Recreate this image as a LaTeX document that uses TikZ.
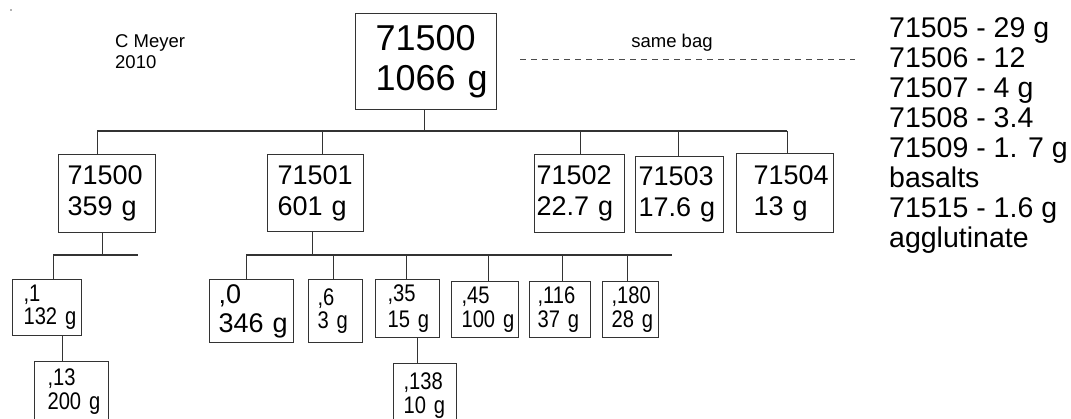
\documentclass[tikz,border=0pt]{standalone}
\usepackage{fontspec}
\setmainfont{Liberation Sans}
\newfontfamily\narrowsans{Liberation Sans}[FakeStretch=0.84]
\usetikzlibrary{positioning, calc}
\newcommand\fBig{\fontsize{36}{40}\selectfont}
\newcommand\fMid{\fontsize{27}{31}\selectfont}
\newcommand\fList{\fontsize{28.5}{30}\selectfont}
\newcommand\fNote{\fontsize{18.5}{21}\selectfont}
\tikzset{
    sample/.style={draw=black!80, line width=1.1pt, anchor=north west, align=left, inner ysep=0pt},
    small/.style={font=\narrowsans\fontsize{24}{#1}\selectfont},
    link/.style={black!80, line width=1.1pt},
    bagline/.style={black!70, line width=1pt, dash pattern=on 6pt off 5pt},
    note/.style={inner sep=0pt, align=left},
}
\begin{document}
\begin{tikzpicture}[x=1pt, y=-1pt]
    \useasboundingbox (0,0) rectangle (1071,418);
    \clip (0,0) rectangle (1071,418);
    \fill[gray!60] (10.3,9.3) rectangle (11.7,10.7);

    % Notes
    \node[note, font=\fNote, anchor=north west] (author) at (115,34) {C Meyer\\2010};
    \node[note, font=\fNote, anchor=base] (samebag) at (672,47) {same bag};
    \coordinate (bagL) at (520,59);
    \coordinate (bagR) at (855,59);
    \draw[bagline] (bagL) -- (bagR);
    \node[note, font=\fList, anchor=north west] (others) at (889,17)
        {71505 - 29 g\\71506 - 12\\71507 - 4 g\\71508 - 3.4\\71509 - 1. 7 g\\basalts\\71515 - 1.6 g\\agglutinate};

    % 1. Whole sample
    \node[sample, font=\fBig, minimum width=141pt, minimum height=96pt, inner xsep=20pt, text width=101pt] (bag) at (355,13) {71500\\1066~g};

    % 2. First split
    \node[sample, font=\fMid, minimum width=97pt, minimum height=78pt, inner xsep=9pt, text width=79pt] (n71500) at (58,154) {71500\\359~g};
    \node[sample, font=\fMid, minimum width=96pt, minimum height=77pt, inner xsep=10pt, text width=76pt] (n71501) at (267,154) {71501\\601~g};
    \node[sample, font=\fMid, minimum width=90pt, minimum height=78pt, inner xsep=2pt, text width=86pt] (n71502) at (534,154) {71502\\22.7~g};
    \node[sample, font=\fMid, minimum width=88pt, minimum height=76pt, inner xsep=3pt, text width=82pt] (n71503) at (635,156) {71503\\17.6~g};
    \node[sample, font=\fMid, minimum width=97pt, minimum height=79pt, inner xsep=17pt, text width=63pt] (n71504) at (736,153) {71504\\13~g};

    \coordinate (bus) at (97,131);
    \coordinate (busEnd) at (787,131);
    \draw[link] (bus) -- (busEnd);
    \draw[link] (bag.south) ++(-1.5,0) coordinate (d) -- (d |- bus);
    \foreach \n/\dx in {n71500/-9.5, n71501/7, n71502/1, n71503/-1, n71504/2.5}
        \draw[link] (\n.north) ++(\dx,0) coordinate (d) -- (d |- bus);

    % 3. Splits of 71500
    \node[sample, small=23, minimum width=69pt, minimum height=56pt, inner xsep=11pt, text width=47pt] (p1) at (12,279) {,1\\132~g};
    \node[sample, small=24, minimum width=74pt, minimum height=60pt, inner xsep=13pt, text width=48pt] (p13) at (34,361) {,13\\200~g};

    \coordinate (busA) at (53,255);
    \coordinate (busAEnd) at (138,255);
    \draw[link] (busA) -- (busAEnd);
    \draw[link] (n71500.south) ++(-4.5,0) coordinate (d) -- (d |- busA);
    \draw[link] (p1.north) ++(6.5,0) coordinate (d) -- (d |- busA);
    \draw[link] (p1.south) ++(15.5,0) coordinate (d) -- (d |- p13.north);

    % 4. Splits of 71501
    \node[sample, font=\fontsize{27}{29}\selectfont, minimum width=84pt, minimum height=63pt, inner xsep=9pt, text width=66pt] (p0) at (209,279) {,0\\346~g};
    \node[sample, small=23, minimum width=54pt, minimum height=63pt, inner xsep=9pt, text width=36pt] (p6) at (308,279) {,6\\3~g};
    \node[sample, small=26, minimum width=64pt, minimum height=58pt, inner xsep=12pt, text width=40pt] (p35) at (375,279) {,35\\15~g};
    \node[sample, small=24, minimum width=63pt, minimum height=64pt, inner xsep=10pt, text width=43pt] (p138) at (393,363) {,138\\10~g};
    \node[sample, small=24, minimum width=67pt, minimum height=56pt, inner xsep=10pt, text width=47pt] (p45) at (451,281) {,45\\100~g};
    \node[sample, small=24, minimum width=61pt, minimum height=56pt, inner xsep=8pt, text width=45pt] (p116) at (529,281) {,116\\37~g};
    \node[sample, small=24, minimum width=56pt, minimum height=56pt, inner xsep=9pt, text width=38pt] (p180) at (602,281) {,180\\28~g};

    \coordinate (busB) at (246,255);
    \coordinate (busBEnd) at (672,255);
    \draw[link] (busB) -- (busBEnd);
    \draw[link] (n71501.south) ++(-3,0) coordinate (d) -- (d |- busB);
    \foreach \n/\dx in {p0/-5, p6/-2, p35/-1, p45/3.5, p116/2.5, p180/-3}
        \draw[link] (\n.north) ++(\dx,0) coordinate (d) -- (d |- busB);
    \draw[link] (p35.south) ++(10,0) coordinate (d) -- (d |- p138.north);
\end{tikzpicture}
\end{document}
